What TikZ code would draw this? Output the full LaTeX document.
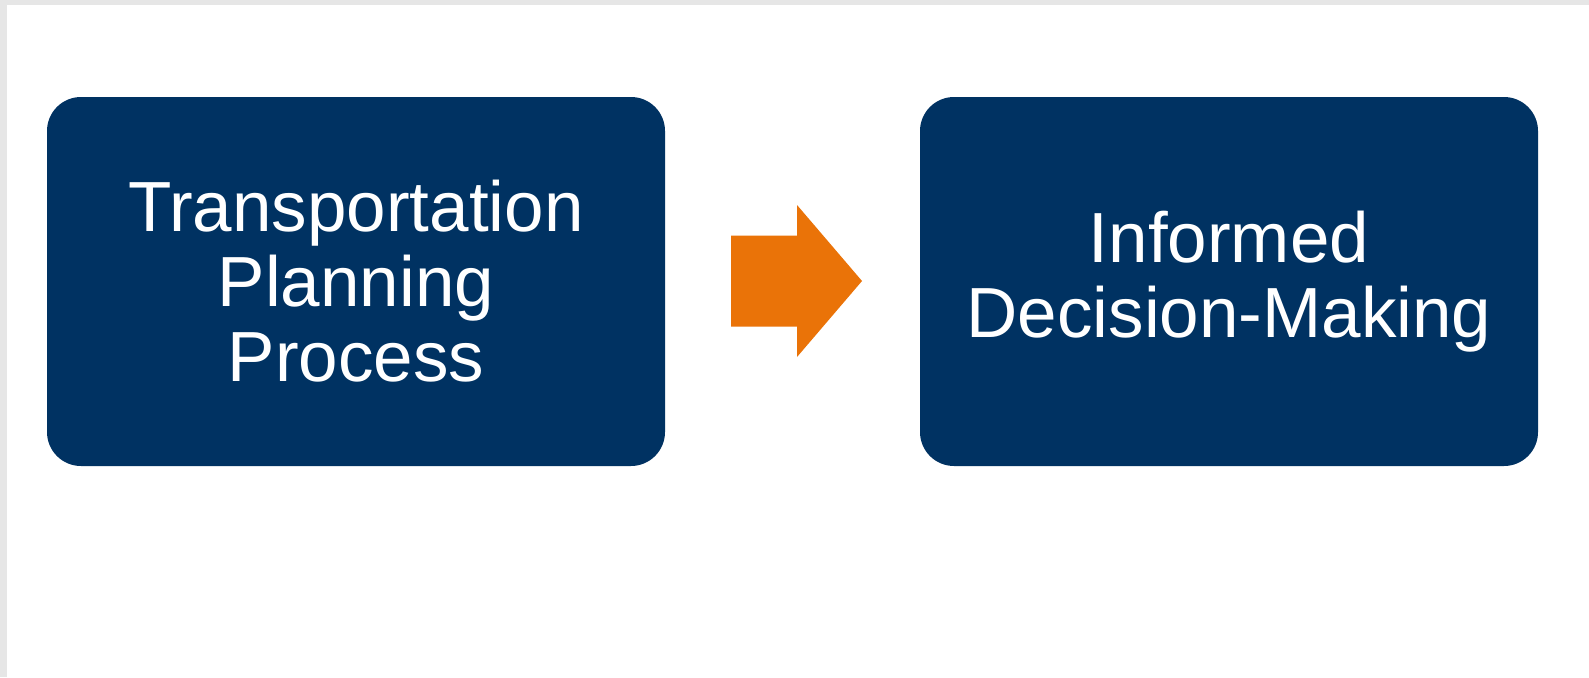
\documentclass[tikz,border=0pt]{standalone}
\usepackage{fontspec}
\setmainfont{Liberation Sans}
\definecolor{navy}{RGB}{0,50,98}
\definecolor{flow}{RGB}{234,115,8}
\definecolor{frame}{RGB}{230,230,230}
\tikzset{
  stage/.style={fill=navy, rounded corners=34pt, minimum width=618pt, minimum height=369pt,
    text=white, align=center, inner sep=0pt,
    font=\fontsize{71}{75}\selectfont},
}
\begin{document}
\begin{tikzpicture}[x=1pt,y=-1pt]

    % page with grey frame at top and left
    \fill[frame] (0,0) rectangle (1589,677);
    \fill[white] (7,5) rectangle (1589,677);
    \useasboundingbox (0,0) rectangle (1589,677);

    \node[stage] (planning) at (356,281.5) {Transportation\\Planning\\Process};
    \node[stage] (decision) at (1229,281.5) {Informed\\Decision-Making};

    % orange arrow between the boxes
    \coordinate (tail) at (731,281);
    \coordinate (tip) at (862,281);
    \fill[flow] (tail) ++(0,-45.5) -- ++(66,0) -- (797,205) -- (tip)
        -- (797,357) -- (797,326.5) -- (tail |- 0,326.5) -- cycle;

\end{tikzpicture}
\end{document}
